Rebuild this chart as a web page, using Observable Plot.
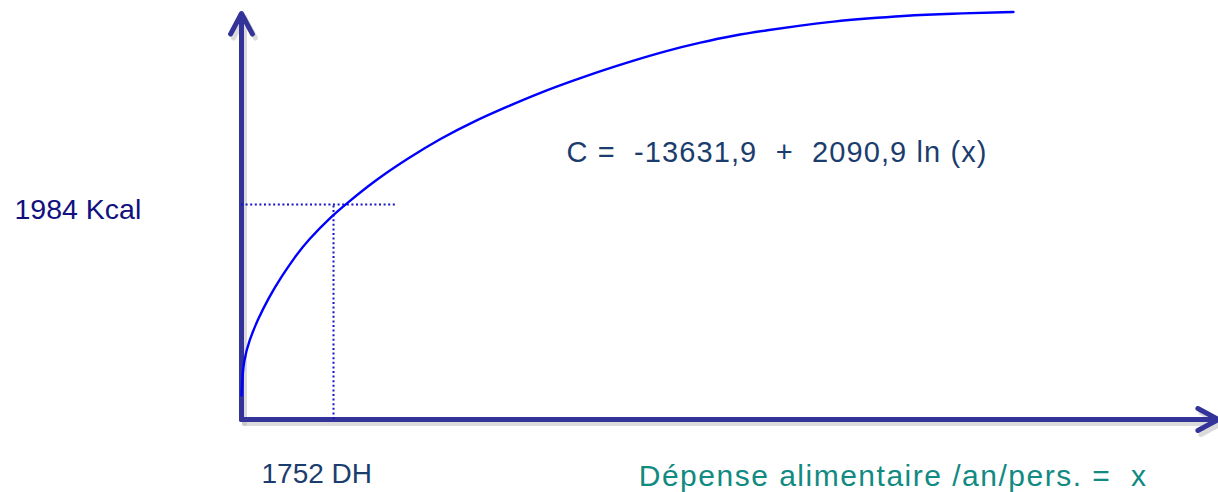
<!DOCTYPE html>
<html>
<head>
<meta charset="utf-8">
<script src="https://cdn.jsdelivr.net/npm/d3@7"></script>
<script src="https://cdn.jsdelivr.net/npm/@observablehq/plot@0.6"></script>
<style>
  html, body { margin: 0; padding: 0; background: #ffffff; }
  #chart svg { display: block; }
</style>
</head>
<body>
<div id="chart"></div>
<script>
// Schematic curve C = f(x) (chart units, origin at the axes' corner)
const curveX = [1, 1.7, 3.3, 8.7, 17, 28, 41, 54, 67, 93, 105, 133, 167, 200, 233, 267, 300, 333, 360, 393, 427, 460, 493, 527, 560, 593, 627, 660, 710, 773];
const curveY = [24, 39, 59, 79, 99.5, 121.5, 143, 162, 179, 205, 215, 238, 261, 281, 298, 313, 327, 339, 348.5, 359, 369, 377, 384, 389.3, 394, 398, 401, 403.6, 405.9, 407.5];

// Marked point (1752 DH -> 1984 Kcal)
const markX = [93];
const markY = [215];
const markXLabel = ["1752 DH"];
const markYLabel = ["1984 Kcal"];

// Axis extents
const axisXEnd = [978];
const axisYEnd = [406];

const equation = ["C =\u00a0\u00a0-13631,9\u00a0\u00a0+\u00a0\u00a02090,9 ln (x)"];
const xTitle = ["Dépense alimentaire /an/pers. =\u00a0\u00a0x"];

const curve = curveX.map((x, i) => ({x, y: curveY[i]}));
const axes = [
  {x1: 1, y1: 0, x2: 1, y2: axisYEnd[0]},
  {x1: 1, y1: 0, x2: axisXEnd[0], y2: 0}
];
const hGuide = [{x1: 1, x2: 156, y: markY[0]}];
const vGuide = [{x: markX[0], y1: 0, y2: markY[0]}];

const font = "'Liberation Sans', Arial, sans-serif";

const chart = Plot.plot({
  width: 1218,
  height: 492,
  margin: 0,
  style: {background: "#ffffff", fontFamily: font},
  x: {domain: [-240, 978], axis: null},
  y: {domain: [-73, 419], axis: null},
  marks: [
    // axis shadows
    Plot.arrow(axes, {x1: "x1", y1: "y1", x2: "x2", y2: "y2", stroke: "#b8b8b8", strokeOpacity: 0.5, strokeWidth: 5, headLength: 7, headAngle: 56, dx: 3, dy: 4, strokeLinecap: "round", strokeLinejoin: "miter"}),
    // axes
    Plot.arrow(axes, {x1: "x1", y1: "y1", x2: "x2", y2: "y2", stroke: "#333399", strokeWidth: 5, headLength: 7, headAngle: 56, strokeLinecap: "round", strokeLinejoin: "miter"}),
    // dotted guides
    Plot.ruleY(hGuide, {x1: "x1", x2: "x2", y: "y", stroke: "#1414c8", strokeWidth: 2, strokeDasharray: "2,2.6"}),
    Plot.ruleX(vGuide, {x: "x", y1: "y1", y2: "y2", stroke: "#1414c8", strokeWidth: 2, strokeDasharray: "2,2.6"}),
    // curve
    Plot.line(curve, {x: "x", y: "y", stroke: "#0000ff", strokeWidth: 2.4, curve: "basis"}),
    // labels
    Plot.text(markYLabel, {x: -226, y: 201, text: d => d, textAnchor: "start", lineAnchor: "bottom", fontSize: 28.5, fill: "#10107f", fontFamily: font}),
    Plot.text(markXLabel, {x: 21, y: -63, text: d => d, textAnchor: "start", lineAnchor: "bottom", fontSize: 28, fill: "#1b3d6e", fontFamily: font}),
    Plot.text(equation, {x: 326, y: 258, text: d => d, textAnchor: "start", lineAnchor: "bottom", fontSize: 29, fill: "#1b3d6e", fontFamily: font, className: "eq"}),
    Plot.text(xTitle, {x: 907, y: -66, text: d => d, textAnchor: "end", lineAnchor: "bottom", fontSize: 30, fill: "#118a81", fontFamily: font, className: "xt"})
  ]
});
d3.select(chart).selectAll(".eq text").style("letter-spacing", "1.1px");
d3.select(chart).selectAll(".xt text").style("letter-spacing", "1.5px");
document.getElementById("chart").appendChild(chart);
</script>
</body>
</html>
